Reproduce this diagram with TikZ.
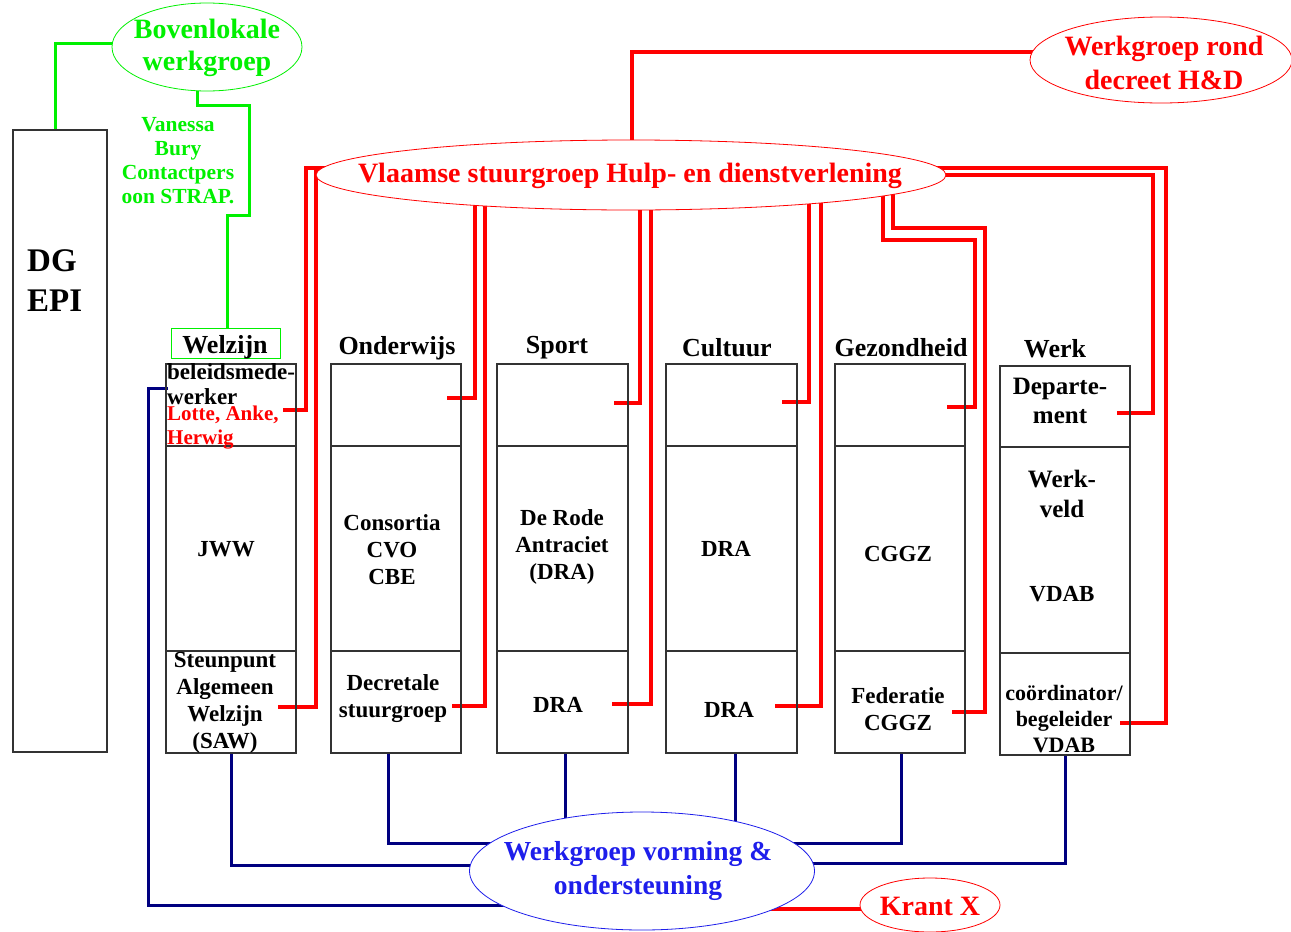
\documentclass[tikz,border=0pt]{standalone}
\usepackage{fontspec}
\setmainfont{Liberation Serif}
\usetikzlibrary{shapes.geometric}
\pgfdeclarelayer{back}
\pgfdeclarelayer{bg}
\pgfsetlayers{back,bg,main}
\definecolor{lgreen}{RGB}{0,240,0}
\definecolor{lred}{RGB}{255,0,0}
\definecolor{navy}{RGB}{0,0,128}
\definecolor{lblue}{RGB}{30,30,235}
\newcommand\cellbox[5]{\node[cell,minimum width={#4-#2},minimum height={#5-#3}] (#1) at (#2,#3) {};}
\begin{document}
\begin{tikzpicture}[x=1pt,y=-1pt,
 cell/.style={draw=black!80,line width=1.2pt,inner sep=0pt,outer sep=0pt,anchor=north west},
 txt/.style={font=\bfseries\fontsize{23}{27}\selectfont,align=center,inner sep=0pt},
 ttl/.style={font=\bfseries\fontsize{26}{30}\selectfont,inner sep=0pt},
 ell/.style={ellipse,draw,fill=white,line width=0.8pt,inner sep=0pt},
 etxt/.style={font=\bfseries\fontsize{28}{33}\selectfont,align=center,inner sep=0pt},
 rl/.style={draw=lred,line width=3.2pt,line join=miter},
 gl/.style={draw=lgreen,line width=3pt,line join=miter},
 bl/.style={draw=navy,line width=3pt,line join=miter},
]
\useasboundingbox (0,0) rectangle (1291,932);
\begin{pgfonlayer}{back}
\fill[white] (0,0) rectangle (1291,932);
\end{pgfonlayer}

% DG EPI
\node[cell,minimum width=94,minimum height=622] (dg) at (13,130) {};
\node[font=\bfseries\fontsize{33}{40}\selectfont,align=left,anchor=west,inner sep=0pt] (dgt) at (27,281) {DG\\EPI};

% column boxes
\cellbox{w1}{166}{364}{296}{446}
\cellbox{w2}{166}{446}{296}{651}
\cellbox{w3}{166}{651}{296}{753}
\cellbox{o1}{331}{364}{461}{446}
\cellbox{o2}{331}{446}{461}{651}
\cellbox{o3}{331}{651}{461}{753}
\cellbox{s1}{497}{364}{628}{446}
\cellbox{s2}{497}{446}{628}{651}
\cellbox{s3}{497}{651}{628}{753}
\cellbox{c1}{666}{364}{797}{446}
\cellbox{c2}{666}{446}{797}{651}
\cellbox{c3}{666}{651}{797}{753}
\cellbox{g1}{835}{364}{965}{446}
\cellbox{g2}{835}{446}{965}{651}
\cellbox{g3}{835}{651}{965}{753}
\cellbox{k1}{1000}{366}{1130}{447}
\cellbox{k2}{1000}{447}{1130}{653}
\cellbox{k3}{1000}{653}{1130}{755}

% titles
\node[draw=lgreen,line width=1.2pt,minimum width=109,minimum height=30,anchor=north west,inner sep=0pt] (wlab) at (171,328) {};
\node[ttl] (tw) at (225,347) {Welzijn};
\node[ttl] (to) at (397,348) {Onderwijs};
\node[ttl] (ts) at (557,348) {Sport};
\node[ttl] (tc) at (727,348) {Cultuur};
\node[ttl] (tg) at (901,348) {Gezondheid};
\node[ttl] (tk) at (1055,349) {Werk};

% box texts
\node[txt,align=left,anchor=north west,font=\bfseries\fontsize{23}{25}\selectfont] (tw1) at (167,363) {beleidsmede-\\werker};
\node[font=\bfseries\fontsize{21}{24}\selectfont,text=lred,align=left,anchor=north west,inner sep=0pt] (tw1r) at (167,406) {Lotte, Anke,\\Herwig};
\node[txt] (tw2) at (226,549) {JWW};
\node[txt] (tw3) at (225,703) {Steunpunt\\Algemeen\\Welzijn\\(SAW)};
\node[txt] (to2) at (392,550) {Consortia\\CVO\\CBE};
\node[txt] (to3) at (393,699) {Decretale\\stuurgroep};
\node[txt] (ts2) at (562,547) {De Rode\\Antraciet\\(DRA)};
\node[txt] (ts3) at (558,705) {DRA};
\node[txt] (tc2) at (726,549) {DRA};
\node[txt] (tc3) at (729,710) {DRA};
\node[txt] (tg2) at (898,554) {CGGZ};
\node[txt] (tg3) at (898,709) {Federatie\\CGGZ};
\node[txt,font=\bfseries\fontsize{25}{29}\selectfont] (tk1) at (1060,401) {Departe-\\ment};
\node[txt,font=\bfseries\fontsize{25}{30}\selectfont] (tk2) at (1062,494) {Werk-\\veld};
\node[txt] (tk2b) at (1062,594) {VDAB};
\node[txt,font=\bfseries\fontsize{22}{26}\selectfont] (tk3) at (1064,719) {coördinator/\\begeleider\\VDAB};

% green annotation
\node[font=\bfseries\fontsize{21.5}{24}\selectfont,text=lgreen,align=center,inner sep=0pt] (van) at (178,161) {Vanessa\\Bury\\Contactpers\\oon STRAP.};

% ellipses
\node[ell,draw=lgreen,minimum width=190,minimum height=88] (bov) at (207,47) {};
\node[etxt,text=lgreen,font=\bfseries\fontsize{28}{32}\selectfont] (bovt) at (207,48) {Bovenlokale\\werkgroep};
\node[ell,draw=lred,minimum width=630,minimum height=70] (vsg) at (631,175) {};
\node[etxt,text=lred] (vsgt) at (630,176) {Vlaamse stuurgroep Hulp- en dienstverlening};
\node[ell,draw=lred,minimum width=262,minimum height=86] (wrd) at (1161,60) {};
\node[etxt,text=lred,font=\bfseries\fontsize{28}{34}\selectfont] (wrdt) at (1164,63) {Werkgroep rond\\decreet H\&D};
\node[ell,draw=lblue,minimum width=345,minimum height=118] (vwo) at (642,871) {};
\node[etxt,text=lblue,font=\bfseries\fontsize{27.5}{34}\selectfont] (vwot) at (638,871) {Werkgroep vorming \&\\ondersteuning};
\node[ell,draw=lred,minimum width=140,minimum height=54] (kx) at (930,905) {};
\node[etxt,text=lred] (kxt) at (930,906) {Krant X};

% connectors
\begin{pgfonlayer}{bg}
% green
\coordinate (bovw) at (150,43);
\draw[gl] (bovw) -- (55,43) -- (dg.north -| 55,0);
\coordinate (bovs) at (197,60);
\draw[gl] (bovs) -- (197,105) -- (249,105) -- (249,215) -- (227,215) -- (wlab.north -| 227,0);
% red: Werkgroep rond -> Vlaamse stuurgroep
\coordinate (wrdA) at (1161,52);
\coordinate (vsgA) at (632,175);
\draw[rl] (wrdA) -| (vsgA);
% red: stuurgroep to columns
\coordinate (rw1) at (283,410);
\coordinate (rw3) at (278,707);
\draw[rl] (rw1) -| (306,168) -- (vsg.center |- 0,168);
\draw[rl] (rw3) -| (316,172) -- (vsg.center |- 0,172);
\coordinate (ro1) at (447,398); \coordinate (vo1) at (475,175);
\coordinate (ro3) at (452,706); \coordinate (vo3) at (485,175);
\draw[rl] (ro1) -| (vo1);
\draw[rl] (ro3) -| (vo3);
\coordinate (rs1) at (614,403); \coordinate (vs1) at (640,175);
\coordinate (rs3) at (612,704); \coordinate (vs3) at (651,175);
\draw[rl] (rs1) -| (vs1);
\draw[rl] (rs3) -| (vs3);
\coordinate (rc1) at (782,402); \coordinate (vc1) at (809,175);
\coordinate (rc3) at (775,706); \coordinate (vc3) at (821,175);
\draw[rl] (rc1) -| (vc1);
\draw[rl] (rc3) -| (vc3);
\coordinate (rg1) at (947,407); \coordinate (vg1) at (883,175);
\coordinate (rg3) at (952,712); \coordinate (vg3) at (893,175);
\draw[rl] (rg1) -| (975,240) -| (vg1);
\draw[rl] (rg3) -| (985,228) -| (vg3);
\coordinate (rk1) at (1117,413);
\coordinate (rk3) at (1120,723);
\draw[rl] (rk1) -| (1153,175) -- (vsg.center);
\draw[rl] (rk3) -| (1166,168) -- (vsg.center |- 0,168);
% blue
\coordinate (bw1) at (168,388);
\draw[bl] (bw1) -- (148,388) -- (148,905) -- (vwo.center |- 0,905);
\draw[bl] (w3.south) |- (vwo.center |- 0,865);
\coordinate (bo3) at (388,753);
\draw[bl] (bo3) |- (vwo.center |- 0,843);
\coordinate (bs3) at (565,753);
\draw[bl] (bs3) -- (vwo.center -| bs3);
\coordinate (bc3) at (735,753);
\draw[bl] (bc3) -- (vwo.center -| bc3);
\coordinate (bg3) at (901,753);
\draw[bl] (bg3) |- (vwo.center |- 0,843);
\coordinate (bk3) at (1065,755);
\draw[bl] (bk3) |- (vwo.center |- 0,863);
% Krant X
\coordinate (kxa) at (700,909);
\draw[rl] (kxa) -- (kx.center |- 0,909);
\end{pgfonlayer}
\end{tikzpicture}
\end{document}
